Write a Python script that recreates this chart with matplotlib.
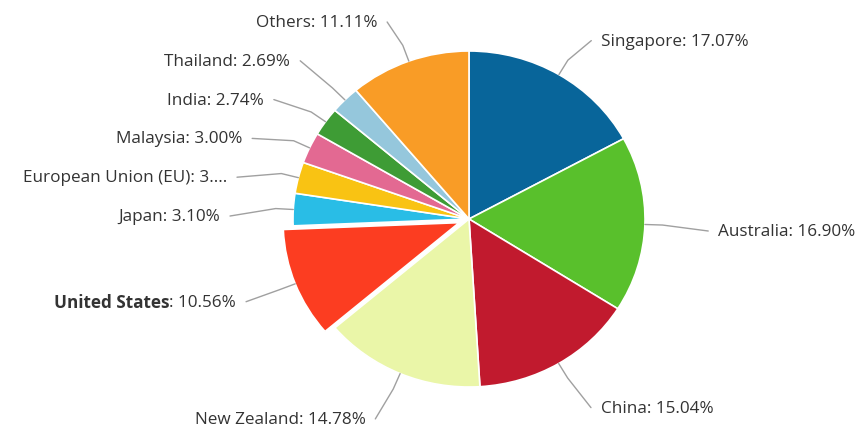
import numpy as np
import matplotlib.pyplot as plt

plt.rcParams['font.family'] = ['Open Sans', 'DejaVu Sans']

countries = ['Singapore', 'Australia', 'China', 'New Zealand', 'United States',
             'Japan', 'European Union (EU)', 'Malaysia', 'India', 'Thailand', 'Others']
shares = [17.07, 16.90, 15.04, 14.78, 10.56, 3.10, 3.01, 3.00, 2.74, 2.69, 11.11]
colors = ['#08659a', '#59c02c', '#c11a2e', '#eaf6a8', '#fc3d21', '#29bde6',
          '#f9c313', '#e36992', '#3e9c35', '#95c7dc', '#f99c26']
labels = ['Singapore: 17.07%', 'Australia: 16.90%', 'China: 15.04%', 'New Zealand: 14.78%',
          'United States: 10.56%', 'Japan: 3.10%', 'European Union (EU): 3....',
          'Malaysia: 3.00%', 'India: 2.74%', 'Thailand: 2.69%', 'Others: 11.11%']
selected = 'United States'

W, H = 859, 431
RX_PX, RY_PX = 176.0, 168.0   # the original is slightly stretched horizontally
CX, CY = 469, 220

fig = plt.figure(figsize=(W / 100, H / 100), dpi=100)
ax = fig.add_axes([0, 0, 1, 1])

explode = [0.06 if c == selected else 0 for c in countries]
wedges, _ = ax.pie(shares, colors=colors, startangle=90, counterclock=False,
                   explode=explode, radius=1.0,
                   wedgeprops=dict(edgecolor='white', linewidth=1.2))
ax.set_xlim(-CX / RX_PX, (W - CX) / RX_PX)
ax.set_ylim(-(H - CY) / RY_PX, CY / RY_PX)
ax.set_aspect('auto')
ax.axis('off')

# label placement (highcharts-like)
total = sum(shares)
cum = np.cumsum([0] + shares[:-1])
mids = [(c + s / 2) / total for c, s in zip(cum, shares)]
angles = [np.pi / 2 - 2 * np.pi * m for m in mids]
R_LAB = 1.27
R_X = 1.36
gap = 0.231
y_top, y_bot = 1.18, -1.19

nat_y = [R_LAB * np.sin(a) - 0.03 for a in angles]
sides = [1 if np.cos(a) >= 0 else -1 for a in angles]
ys = list(nat_y)
for side in (1, -1):
    idx = [i for i in range(len(ys)) if sides[i] == side]
    idx.sort(key=lambda i: ys[i])
    for _ in range(200):
        moved = False
        for a, b in zip(idx[:-1], idx[1:]):
            d = ys[b] - ys[a]
            if d < gap - 1e-6:
                shift = (gap - d) / 2
                ys[a] -= shift
                ys[b] += shift
                moved = True
        for i in idx:
            if ys[i] > y_top:
                ys[i] = y_top
                moved = True
            if ys[i] < y_bot:
                ys[i] = y_bot
                moved = True
        if not moved:
            break

for i, (a, lab) in enumerate(zip(angles, labels)):
    off = explode[i]
    ox, oy = off * np.cos(a), off * np.sin(a)
    x0, y0 = ox + np.cos(a), oy + np.sin(a)
    x1, y1 = ox + 1.1 * np.cos(a), oy + 1.1 * np.sin(a)
    y2 = ys[i]
    x2 = R_X * np.cos(a)
    ax.plot([x0, x1, x2], [y0, y1, y2], color='#a0a0a0', lw=1, zorder=1,
            solid_capstyle='round')
    ha = 'left' if sides[i] > 0 else 'right'
    tx = x2 + sides[i] * 0.056
    if countries[i] == selected:
        name, val = lab.split(': ')
        t = ax.text(tx, y2, ': ' + val, ha=ha, va='center', fontsize=12.3, color='#333333')
        fig.canvas.draw()
        bb = t.get_window_extent().transformed(ax.transData.inverted())
        ax.text(bb.x0, y2, name, ha='right', va='center', fontsize=12.3,
                color='#333333', fontweight='bold')
    else:
        ax.text(tx, y2, lab, ha=ha, va='center', fontsize=12.3, color='#333333')

fig.savefig('out.png', dpi=100, facecolor='white')
